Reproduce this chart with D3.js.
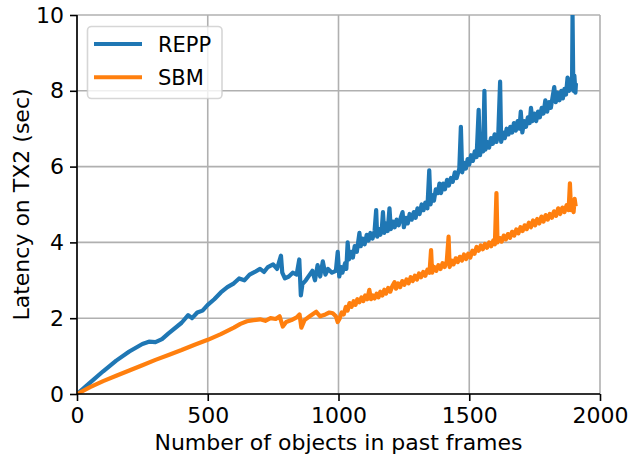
<!DOCTYPE html>
<html>
<head>
<meta charset="utf-8">
<title>Latency on TX2</title>
<script src="https://cdn.jsdelivr.net/npm/d3@7"></script>
<style>
body { margin: 0; background: #fff; }
text { font-family: 'DejaVu Sans', sans-serif; fill: #000; }
</style>
</head>
<body>
<script>
// REPP (blue): [objects, seconds]
var reppPoints = [
  [0,0],[50,0.3],[100,0.6],[150,0.88],[200,1.12],[250,1.32],[275,1.38],[300,1.37],[325,1.45],[350,1.6],
  [400,1.88],[425,2.08],[440,2.0],[460,2.15],[480,2.2],[500,2.35],[525,2.5],[550,2.68],[575,2.82],[600,2.92],
  [620,3.05],[640,3.0],[660,3.15],[680,3.22],[700,3.3],[715,3.22],[730,3.35],[750,3.42],[765,3.3],[780,3.65],
  [785,3.2],[795,3.05],[810,3.1],[825,3.2],[840,3.15],[850,3.55],[856,2.6],[862,2.9],[875,3.0],[890,3.15],
  [900,3.25],[910,3.0],[920,3.4],[930,3.1],[940,3.5],[950,3.15],[960,3.3],[975,3.2],[990,3.25],[997,3.75],
  [1003,3.1],[1010,3.35],[1015,3.2],[1025,3.45],[1030,3.3],[1035,4.0],[1040,3.55],[1048,3.75],[1055,3.6],[1062,3.9],
  [1070,3.75],[1080,4.25],[1085,3.9],[1092,4.1],[1100,3.95],[1108,4.2],[1115,4.05],[1122,4.25],[1130,4.1],[1138,4.3],
  [1144,4.85],[1148,4.15],[1155,4.35],[1160,4.2],[1166,4.4],[1170,4.8],[1175,4.25],[1182,4.5],[1188,4.3],[1195,4.9],
  [1200,4.35],[1208,4.55],[1215,4.4],[1222,4.6],[1230,4.45],[1238,4.65],[1245,4.8],[1250,4.4],[1258,4.65],[1265,4.5],
  [1272,4.75],[1280,4.6],[1288,4.8],[1295,4.65],[1302,4.9],[1310,4.75],[1318,5.0],[1325,4.85],[1332,5.05],[1340,4.9],
  [1347,5.9],[1352,5.0],[1358,5.25],[1365,5.1],[1372,5.4],[1380,5.3],[1386,5.55],[1392,5.3],[1400,5.55],[1407,5.4],
  [1415,5.65],[1422,5.5],[1430,5.7],[1437,5.6],[1445,5.85],[1452,5.7],[1462,5.95],[1468,7.05],[1473,5.85],[1480,6.1],
  [1487,5.95],[1494,6.2],[1500,6.05],[1507,6.3],[1514,6.15],[1521,6.4],[1528,6.25],[1536,7.5],[1541,6.3],[1548,6.55],
  [1553,6.4],[1558,8.0],[1562,6.45],[1569,6.65],[1576,6.5],[1583,6.75],[1590,6.6],[1597,6.85],[1604,6.65],[1611,6.85],
  [1618,8.24],[1622,6.65],[1629,6.9],[1636,6.75],[1643,7.0],[1650,6.85],[1657,7.05],[1664,6.9],[1671,7.15],[1678,6.95],
  [1685,7.2],[1692,7.0],[1697,7.45],[1703,6.9],[1710,7.2],[1717,7.05],[1724,7.3],[1731,7.15],[1736,7.55],[1742,7.2],
  [1749,7.4],[1756,7.2],[1763,7.45],[1770,7.3],[1777,7.55],[1784,7.4],[1791,7.75],[1798,7.45],[1805,7.7],[1812,7.55],
  [1819,7.85],[1825,8.1],[1831,7.7],[1838,7.95],[1845,7.75],[1852,8.0],[1858,7.8],[1864,8.05],[1870,7.9],[1876,8.35],
  [1882,8.0],[1888,8.3],[1893,8.1],[1895,10.0],[1898,8.0],[1902,8.4],[1906,7.95],[1908,8.2]
];

// SBM (orange)
var sbmPoints = [
  [0,0],[50,0.18],[100,0.34],[150,0.48],[200,0.62],[250,0.76],[300,0.9],[350,1.03],[400,1.16],[450,1.3],
  [500,1.43],[550,1.58],[600,1.75],[625,1.85],[650,1.92],[675,1.95],[700,1.97],[720,1.93],[740,2.0],[760,1.98],
  [775,2.05],[787,1.78],[800,1.9],[820,1.95],[840,2.02],[851,2.1],[858,1.75],[870,1.95],[890,2.05],[915,2.17],
  [930,2.05],[950,2.1],[965,2.15],[978,2.13],[990,2.05],[997,1.9],[1005,2.0],[1012,2.15],[1020,2.1],[1028,2.3],
  [1035,2.2],[1042,2.4],[1050,2.3],[1058,2.45],[1065,2.35],[1072,2.5],[1080,2.42],[1088,2.55],[1095,2.45],[1102,2.6],
  [1110,2.5],[1118,2.75],[1124,2.5],[1131,2.6],[1138,2.52],[1146,2.65],[1153,2.55],[1160,2.7],[1168,2.6],[1175,2.75],
  [1182,2.65],[1190,2.8],[1198,2.7],[1206,2.85],[1214,2.95],[1220,2.78],[1228,2.92],[1236,2.82],[1244,2.98],[1252,2.88],
  [1260,3.02],[1268,2.92],[1276,3.08],[1284,2.98],[1292,3.12],[1300,3.02],[1308,3.18],[1316,3.08],[1324,3.22],[1332,3.12],
  [1340,3.28],[1348,3.2],[1354,3.8],[1358,3.2],[1366,3.35],[1374,3.25],[1382,3.4],[1390,3.3],[1398,3.45],[1406,3.35],
  [1414,3.5],[1421,4.15],[1425,3.35],[1432,3.52],[1440,3.42],[1448,3.58],[1456,3.48],[1464,3.62],[1472,3.52],[1480,3.68],
  [1488,3.56],[1496,3.7],[1504,3.6],[1512,3.78],[1520,3.7],[1528,3.88],[1536,3.78],[1544,3.92],[1552,3.82],[1560,3.96],
  [1568,3.86],[1576,4.0],[1584,3.9],[1592,4.05],[1598,3.95],[1604,5.3],[1608,4.0],[1616,4.12],[1624,4.02],[1632,4.18],
  [1640,4.08],[1648,4.22],[1656,4.12],[1664,4.28],[1672,4.18],[1680,4.34],[1688,4.24],[1696,4.4],[1704,4.3],[1712,4.45],
  [1720,4.35],[1728,4.52],[1736,4.4],[1744,4.58],[1752,4.45],[1760,4.62],[1768,4.5],[1776,4.68],[1784,4.55],[1792,4.72],
  [1800,4.6],[1808,4.75],[1816,4.65],[1824,4.82],[1832,4.7],[1840,4.9],[1848,4.75],[1856,4.92],[1864,4.8],[1872,4.98],
  [1880,4.85],[1885,5.56],[1889,4.85],[1894,5.1],[1899,4.8],[1903,5.15],[1907,4.95]
];

var xTicks = [0, 500, 1000, 1500, 2000];
var yTicks = [0, 2, 4, 6, 8, 10];
var seriesNames = ["REPP", "SBM"];
var seriesColors = ["#1f77b4", "#ff7f0e"];

(function(){
var W = 636, H = 461;
var pL = 77, pR = 600, pT = 15, pB = 394;

var svg = d3.select("body").append("svg")
  .attr("width", W)
  .attr("height", H);

var x = d3.scaleLinear().domain([0, 2000]).range([pL, pR]);
var y = d3.scaleLinear().domain([0, 10]).range([pB, pT]);

// grid
svg.append("g").selectAll("line").data(xTicks).enter().append("line")
  .attr("x1", function(d){ return x(d); }).attr("x2", function(d){ return x(d); })
  .attr("y1", pT).attr("y2", pB)
  .attr("stroke", "#b0b0b0").attr("stroke-width", 1.6);
svg.append("g").selectAll("line").data(yTicks).enter().append("line")
  .attr("y1", function(d){ return y(d); }).attr("y2", function(d){ return y(d); })
  .attr("x1", pL).attr("x2", pR)
  .attr("stroke", "#b0b0b0").attr("stroke-width", 1.6);

// lines
var series = [reppPoints, sbmPoints];
var line = d3.line().x(function(d){ return x(d[0]); }).y(function(d){ return y(d[1]); });

svg.append("clipPath").attr("id", "clip").append("rect")
  .attr("x", pL).attr("y", pT).attr("width", pR - pL).attr("height", pB - pT);

series.forEach(function(s, i){
  svg.append("path")
    .attr("d", line(s))
    .attr("fill", "none")
    .attr("stroke", seriesColors[i])
    .attr("stroke-width", 4.2)
    .attr("stroke-linejoin", "round")
    .attr("clip-path", "url(#clip)");
});

// axes
var xAxis = d3.axisBottom(x).tickValues(xTicks).tickSize(7).tickPadding(6).tickFormat(d3.format("d"));
var yAxis = d3.axisLeft(y).tickValues(yTicks).tickSize(7).tickPadding(6).tickFormat(d3.format("d"));

var gx = svg.append("g").attr("transform", "translate(0," + pB + ")").call(xAxis);
var gy = svg.append("g").attr("transform", "translate(" + pL + ",0)").call(yAxis);
[gx, gy].forEach(function(g){
  g.select(".domain").remove();
  g.selectAll(".tick line").attr("stroke", "#000").attr("stroke-width", 1.6);
  g.selectAll(".tick text").attr("font-size", "22px").attr("font-family", "DejaVu Sans").attr("fill", "#000");
});
svg.append("line").attr("x1", pL).attr("x2", pL).attr("y1", pT).attr("y2", pB)
  .attr("stroke", "#000").attr("stroke-width", 1.6);
svg.append("line").attr("x1", pL).attr("x2", pR).attr("y1", pB).attr("y2", pB)
  .attr("stroke", "#000").attr("stroke-width", 1.6);

// axis labels
svg.append("text")
  .attr("x", (pL + pR) / 2).attr("y", 450)
  .attr("text-anchor", "middle").attr("font-size", "22px")
  .text("Number of objects in past frames");
svg.append("text")
  .attr("transform", "translate(29," + (pT + pB) / 2 + ") rotate(-90)")
  .attr("text-anchor", "middle").attr("font-size", "22px")
  .text("Latency on TX2 (sec)");

// legend
var lg = svg.append("g");
lg.append("rect")
  .attr("x", 87.5).attr("y", 26.5).attr("width", 134.5).attr("height", 72)
  .attr("rx", 4).attr("ry", 4)
  .attr("fill", "#fff").attr("fill-opacity", 0.8)
  .attr("stroke", "#cccccc").attr("stroke-opacity", 0.8).attr("stroke-width", 1.6);
seriesNames.forEach(function(n, i){
  var yy = 44 + i * 33.3;
  lg.append("line").attr("x1", 94).attr("x2", 142).attr("y1", yy).attr("y2", yy)
    .attr("stroke", seriesColors[i]).attr("stroke-width", 4);
  lg.append("text").attr("x", 158).attr("y", yy + 8)
    .attr("font-size", "21px").text(n);
});
})();
</script>
</body>
</html>
